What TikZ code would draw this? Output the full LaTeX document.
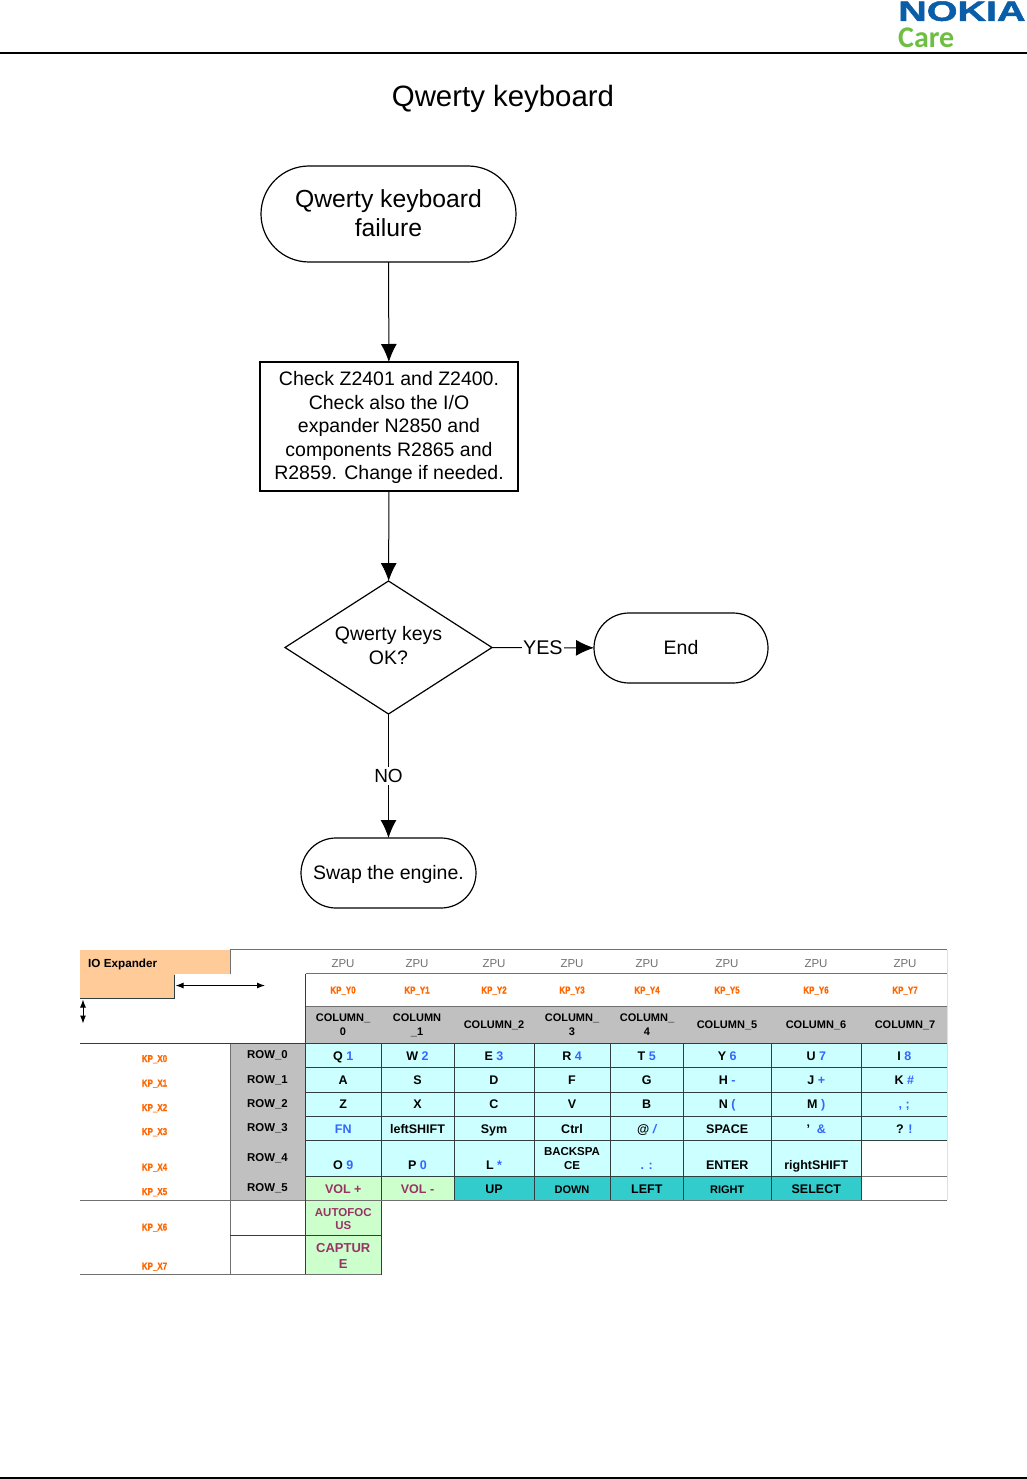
\documentclass[tikz,border=0pt]{standalone}
\usepackage{fontspec}
\setmainfont{Liberation Sans}
\newfontfamily\carefont{Carlito}
\newfontfamily\nokiafont[FakeBold=1.6]{Liberation Sans Bold}
\newfontfamily\kpfont[FakeBold=1.2]{Liberation Sans Bold}
\usetikzlibrary{shapes.geometric,arrows.meta}
\definecolor{keyblue}{HTML}{3366FF}
\definecolor{kporange}{HTML}{FF6600}
\definecolor{keycyan}{HTML}{CCFFFF}
\definecolor{keygreen}{HTML}{CCFFCC}
\definecolor{keyteal}{HTML}{33CCCC}
\definecolor{keygrey}{HTML}{C0C0C0}
\definecolor{ioorange}{HTML}{FFCC99}
\definecolor{volpurple}{HTML}{993366}
\definecolor{gridline}{HTML}{2F3F3F}
\definecolor{greyline}{HTML}{707070}
\definecolor{nokiablue}{HTML}{0A5DA8}
\definecolor{caregreen}{HTML}{6EBE44}
\newcommand\bl[1]{\textcolor{keyblue}{#1}}
\newcommand\low[1]{\raisebox{-7pt}{#1}}
\newcommand\fsz[2]{\fontsize{#1}{#2}\selectfont}
\tikzset{
  flowtext/.style={font=\fsz{19.5}{23.5},align=center,inner sep=0pt,outer sep=0pt},
  terminal/.style={flowtext,draw=black,line width=1.2pt},
  flowline/.style={draw=black,line width=1pt},
  flowarrow/.style={flowline,-{Latex[length=18pt,width=16pt]}},
  smallarrow/.style={flowline,{Latex[length=8pt,width=6pt]}-{Latex[length=8pt,width=6pt]}},
  cellbase/.style={inner sep=0pt,outer sep=0pt,draw=gridline,line width=.9pt,font=\bfseries\fsz{12.5}{14}},
  one/.style={text height=9pt,text depth=0pt},
  oneb/.style={text height=10.5pt,text depth=0pt},
  cyancell/.style={cellbase,one,fill=keycyan},
  tealcell/.style={cellbase,oneb,fill=keyteal},
  greencell/.style={cellbase,fill=keygreen,text=volpurple,align=center},
  plaincell/.style={cellbase,one,fill=white},
  headcell/.style={cellbase,draw=none,fill=keygrey,align=center,font=\bfseries\fsz{11}{14}},
  zpu/.style={inner sep=0pt,text=greyline,font=\fsz{11.5}{14},text height=8pt,text depth=0pt},
  kplabel/.style={inner sep=0pt,text=kporange,xscale=.8,font=\kpfont\fsz{10}{11},text height=7pt,text depth=0pt},
  rowlabel/.style={inner sep=0pt,font=\bfseries\fsz{11.4}{14},text height=8.2pt,text depth=0pt},
  tline/.style={draw=gridline,line width=.9pt},
  gline/.style={draw=greyline,line width=1pt}
}
\newcommand\tcell[7]{% name x1 y1 x2 y2 style text
  \node[#6,minimum width={(#4-#2)*1pt},minimum height={(#5-#3)*1pt}] (#1) at ({(#2+#4)/2},{(#3+#5)/2}) {#7};}
\newcommand\keyrow[5]{% prefix y1 y2 style list
  \foreach \t [count=\i from 0] in {#5} {
    \pgfmathsetmacro\xa{{305.5,381,454,534,610,683.5,771,861.5}[\i]}
    \pgfmathsetmacro\xb{{381,454,534,610,683.5,771,861.5,947}[\i]}
    \tcell{#1c\i}{\xa}{#2}{\xb}{#3}{#4}{\t}
  }}
\begin{document}
\begin{tikzpicture}[x=1pt,y=-1pt]
\useasboundingbox (0,0) rectangle (1027,1479);
% header and footer
\coordinate (hl) at (0,53); \coordinate (hr) at (1027,53);
\coordinate (fl) at (0,1478); \coordinate (fr) at (1027,1478);
\draw[black,line width=1.4pt] (hl) -- (hr);
\draw[black,line width=1.4pt] (fl) -- (fr);
\node[inner sep=0pt,anchor=base west,text=nokiablue,font=\nokiafont\fsz{28}{30},xscale=1.41] (nokia) at (898,20.8) {NOKIA};
\node[inner sep=0pt,anchor=base west,text=caregreen,font=\carefont\bfseries\fsz{30}{32}] (care) at (898,47.5) {Care};
\node[inner sep=0pt,font=\fsz{29.4}{32}] (title) at (503,99) {Qwerty keyboard};
% flowchart
\node[terminal,rounded corners=48pt,minimum width=255pt,minimum height=96pt,font=\fsz{24.7}{29}] (start) at (388.5,214) {Qwerty keyboard\\\rule[-1pt]{0pt}{1pt}failure};
\node[terminal,minimum width=258pt,minimum height=129pt] (check) at (389,426.5) {\rule{0pt}{17pt}Check Z2401 and Z2400.\\Check also the I/O\\expander N2850 and\\components R2865 and\\R2859. Change if needed.};
\node[terminal,diamond,aspect=1.556,minimum width=207pt,minimum height=133pt,font=\fsz{19.5}{24}] (ok) at (388.5,647.5) {Qwerty keys\\\rule[-5pt]{0pt}{5pt}OK?};
\node[terminal,rounded corners=35pt,minimum width=174pt,minimum height=70pt] (endn) at (681,648) {End};
\node[terminal,rounded corners=35pt,minimum width=175pt,minimum height=70pt] (swap) at (388.5,873) {\rule{0pt}{17pt}Swap the engine.};
\draw[flowarrow] (start) -- (check);
\draw[flowarrow] (check) -- (ok);
\draw[flowarrow] (ok) -- node[fill=white,inner sep=1pt,font=\fsz{19.8}{23}] (yes) {YES} (endn);
\draw[flowarrow] (ok) -- node[fill=white,inner sep=2pt,font=\fsz{19}{23},pos=.5] (no) {NO} (swap);
% table: IO expander
\tcell{ioa}{80}{950}{230}{974}{cellbase,draw=none,fill=ioorange}{}
\tcell{iob}{80}{974}{174.5}{998.5}{cellbase,draw=none,fill=ioorange}{}
\node[inner sep=0pt,anchor=base west,font=\bfseries\fsz{11.7}{13}] (iot) at (88,967.5) {IO Expander};
\draw[tline] (174.5,974.5) -- (174.5,998.5) -- (80,998.5);
\coordinate (ah1) at (175.5,985.5); \coordinate (ah2) at (265,985.5);
\coordinate (av1) at (83,999.5); \coordinate (av2) at (83,1023.5);
\draw[smallarrow] (ah1) -- (ah2);
\draw[smallarrow] (av1) -- (av2);
% table: headers
\foreach \n/\x/\kp in {0/343/KP\_Y0,1/417/KP\_Y1,2/494/KP\_Y2,3/572/KP\_Y3,4/647/KP\_Y4,5/727/KP\_Y5,6/816/KP\_Y6,7/905/KP\_Y7}{
  \node[zpu] (zpu\n) at (\x,963.5) {ZPU};
  \node[kplabel] (ky\n) at (\x,990) {\kp};
}
\tcell{headbg}{305.5}{1006.5}{947}{1043.5}{headcell}{}
\foreach \n/\x/\t in {0/343/{COLUMN\_\\0},1/417/{COLUMN\\\_1},2/494/{COLUMN\_2},3/572/{COLUMN\_\\3},4/647/{COLUMN\_\\4},5/727/{COLUMN\_5},6/816/{COLUMN\_6},7/905/{COLUMN\_7}}{
  \node[inner sep=0pt,align=center,font=\bfseries\fsz{11}{14}] (col\n) at (\x,1025) {\t};
}
% table: left side
\tcell{rowbg}{230}{1043.5}{305.5}{1200}{headcell}{}
\foreach \n/\y in {0/1054.5,1/1079,2/1103,3/1127.5,4/1157.5,5/1187.5}{
  \node[rowlabel] (row\n) at (267.5,\y) {ROW\_\n};
}
\foreach \n/\y in {0/1058.5,1/1083,2/1107.5,3/1131.5,4/1167,5/1191.5,6/1227,7/1266}{
  \node[kplabel] (kx\n) at (154.5,\y) {KP\_X\n};
}
% table: keys
\keyrow{ra}{1043.5}{1067.5}{cyancell}{{Q \bl{1}},{W \bl{2}},{E \bl{3}},{R \bl{4}},{T \bl{5}},{Y \bl{6}},{U \bl{7}},{I \bl{8}}}
\keyrow{rb}{1067.5}{1092}{cyancell}{A,S,D,F,G,{H \bl{-}},{J \bl{+}},{K \bl{\#}}}
\keyrow{rc}{1092}{1116.5}{cyancell}{Z,X,C,V,B,{N \bl{(}},{M \bl{)}},{\bl{, ;}}}
\keyrow{rd}{1116.5}{1140.5}{cyancell}{\bl{FN},leftSHIFT,Sym,Ctrl,{@ \bl{\itshape /}},SPACE,{'\ \ \bl{\&}},{? \bl{!}}}
\keyrow{re}{1140.5}{1176}{cyancell}{\low{O \bl{9}},\low{P \bl{0}},\low{L \bl{*}},{},\low{\bl{. :}},\low{ENTER},\low{rightSHIFT},{}}
\tcell{re7}{861.5}{1140.5}{947}{1176}{plaincell,draw=none}{}
\node[inner sep=0pt,align=center,font=\bfseries\fsz{11.5}{14}] (backsp) at (572,1158.5) {BACKSPA\\CE};
\tcell{vplus}{305.5}{1176}{381}{1200}{greencell,oneb}{VOL +}
\tcell{vminus}{381}{1176}{454}{1200}{greencell,oneb}{VOL -}
\tcell{kup}{454}{1176}{534}{1200}{tealcell}{UP}
\tcell{kdown}{534}{1176}{610}{1200}{tealcell,font=\bfseries\fsz{11}{13}}{DOWN}
\tcell{kleft}{610}{1176}{683.5}{1200}{tealcell}{LEFT}
\tcell{kright}{683.5}{1176}{771}{1200}{tealcell,font=\bfseries\fsz{11}{13}}{RIGHT}
\tcell{kselect}{771}{1176}{861.5}{1200}{tealcell}{SELECT}
\tcell{autof}{305.5}{1200}{381}{1235.5}{greencell,font=\bfseries\fsz{11.5}{13.7}}{\rule{0pt}{10.5pt}AUTOFOC\\US}
\tcell{capt}{305.5}{1235.5}{381}{1274}{greencell,font=\bfseries\fsz{13}{15.5}}{\rule{0pt}{11.5pt}CAPTUR\\E}
% table: rules
\draw[gline] (230,949.5) -- (947,949.5);
\draw[gline] (305.5,973.5) -- (947,973.5);
\draw[gline] (305.5,1006.5) -- (947,1006.5);
\draw[tline] (305.5,973.5) -- (305.5,1043.5);
\draw[gline] (230,950) -- (230,974);
\draw[tline] (80,1043.5) -- (947,1043.5);
\draw[gline] (861.5,1176) -- (947,1176);
\draw[gline] (80,1200) -- (947,1200);
\draw[gline] (230,1043.5) -- (230,1274);
\draw[gline] (80,1274) -- (381,1274);
\draw[tline] (230,1235.5) -- (305.5,1235.5);
\draw[tline] (305.5,1200) -- (305.5,1274);
\draw[keygrey!50,line width=.8pt] (947,950) -- (947,1200);
\end{tikzpicture}
\end{document}
